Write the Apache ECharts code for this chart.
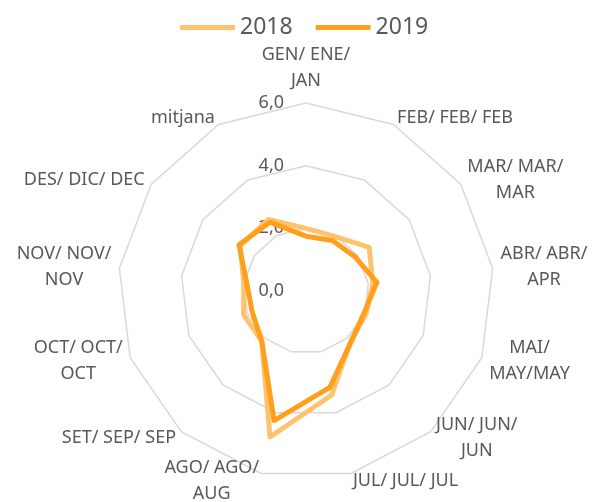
<!DOCTYPE html>
<html>
<head>
<meta charset="utf-8">
<script src="https://cdn.jsdelivr.net/npm/echarts@6/dist/echarts.min.js"></script>
<style>
  html, body { margin: 0; padding: 0; background: #ffffff; }
  #chart { width: 593px; height: 502px; }
</style>
</head>
<body>
<div id="chart"></div>
<script>
// Monthly values (GEN..DES) plus the yearly average, one array per year
const categories = [
  'GEN/ ENE/\nJAN', 'FEB/ FEB/ FEB', 'MAR/ MAR/\nMAR', 'ABR/ ABR/\nAPR',
  'MAI/\nMAY/MAY', 'JUN/ JUN/\nJUN', 'JUL/ JUL/ JUL', 'AGO/ AGO/\nAUG',
  'SET/ SEP/ SEP', 'OCT/ OCT/\nOCT', 'NOV/ NOV/\nNOV', 'DES/ DIC/ DEC', 'mitjana'
];
const seriesNames = ['2018', '2019'];
const values2018 = [2.0, 1.97, 2.45, 2.15, 2.05, 2.15, 3.42, 4.8, 2.13, 2.13, 2.0, 2.55, 2.58];
const values2019 = [1.75, 1.82, 1.91, 2.28, 1.98, 2.17, 3.17, 4.26, 2.13, 1.84, 1.9, 2.6, 2.48];
const axisMin = 0;
const axisMax = 6;
const axisSplits = 3;

const textColor = '#595959';
const fontFamily = '"Noto Sans", "DejaVu Sans", sans-serif';
const colors = ['#FFC36D', '#FF9F1C'];

// The radar lays indicators out counter-clockwise; keep the first one on top
// and walk the rest backwards so the months run clockwise.
const order = [0];
for (let i = categories.length - 1; i > 0; i--) order.push(i);
const pick = function (arr) { return order.map(function (i) { return arr[i]; }); };

const chart = echarts.init(document.getElementById('chart'), null, { renderer: 'canvas' });

const indicator = pick(categories).map(function (name, i) {
  const item = { name: name, min: axisMin, max: axisMax };
  if (i === 0) {
    item.axisLabel = { show: true };
  }
  return item;
});

chart.setOption({
  backgroundColor: '#ffffff',
  animation: false,
  color: colors,
  legend: {
    top: 11,
    left: 175,
    itemWidth: 55,
    itemHeight: 5,
    itemGap: 23,
    icon: 'roundRect',
    textStyle: { color: textColor, fontSize: 23, fontFamily: fontFamily },
    data: seriesNames
  },
  radar: {
    center: [306, 291],
    radius: 188,
    startAngle: 90,
    shape: 'polygon',
    splitNumber: axisSplits,
    nameGap: 8,
    indicator: indicator,
    axisName: {
      color: textColor,
      fontSize: 18,
      fontFamily: fontFamily,
      lineHeight: 26,
      formatter: function (name) {
        return name.split('\n').map(function (line) { return '{c|' + line + '}'; }).join('\n');
      },
      rich: {
        c: { align: 'center', color: textColor, fontSize: 18, fontFamily: fontFamily, lineHeight: 26 }
      }
    },
    axisLine: { show: false },
    axisTick: { show: false },
    axisLabel: {
      show: false,
      color: textColor,
      fontSize: 18,
      fontFamily: fontFamily,
      margin: 22,
      formatter: function (v) { return v.toFixed(1).replace('.', ','); }
    },
    splitLine: { lineStyle: { color: '#D9D9D9', width: 1.5 } },
    splitArea: { show: false }
  },
  series: [{
    type: 'radar',
    symbol: 'none',
    data: [
      { name: seriesNames[0], value: pick(values2018), lineStyle: { color: colors[0], width: 5, join: 'round' }, itemStyle: { color: colors[0] } },
      { name: seriesNames[1], value: pick(values2019), lineStyle: { color: colors[1], width: 5, join: 'round' }, itemStyle: { color: colors[1] } }
    ]
  }]
});
</script>
</body>
</html>
